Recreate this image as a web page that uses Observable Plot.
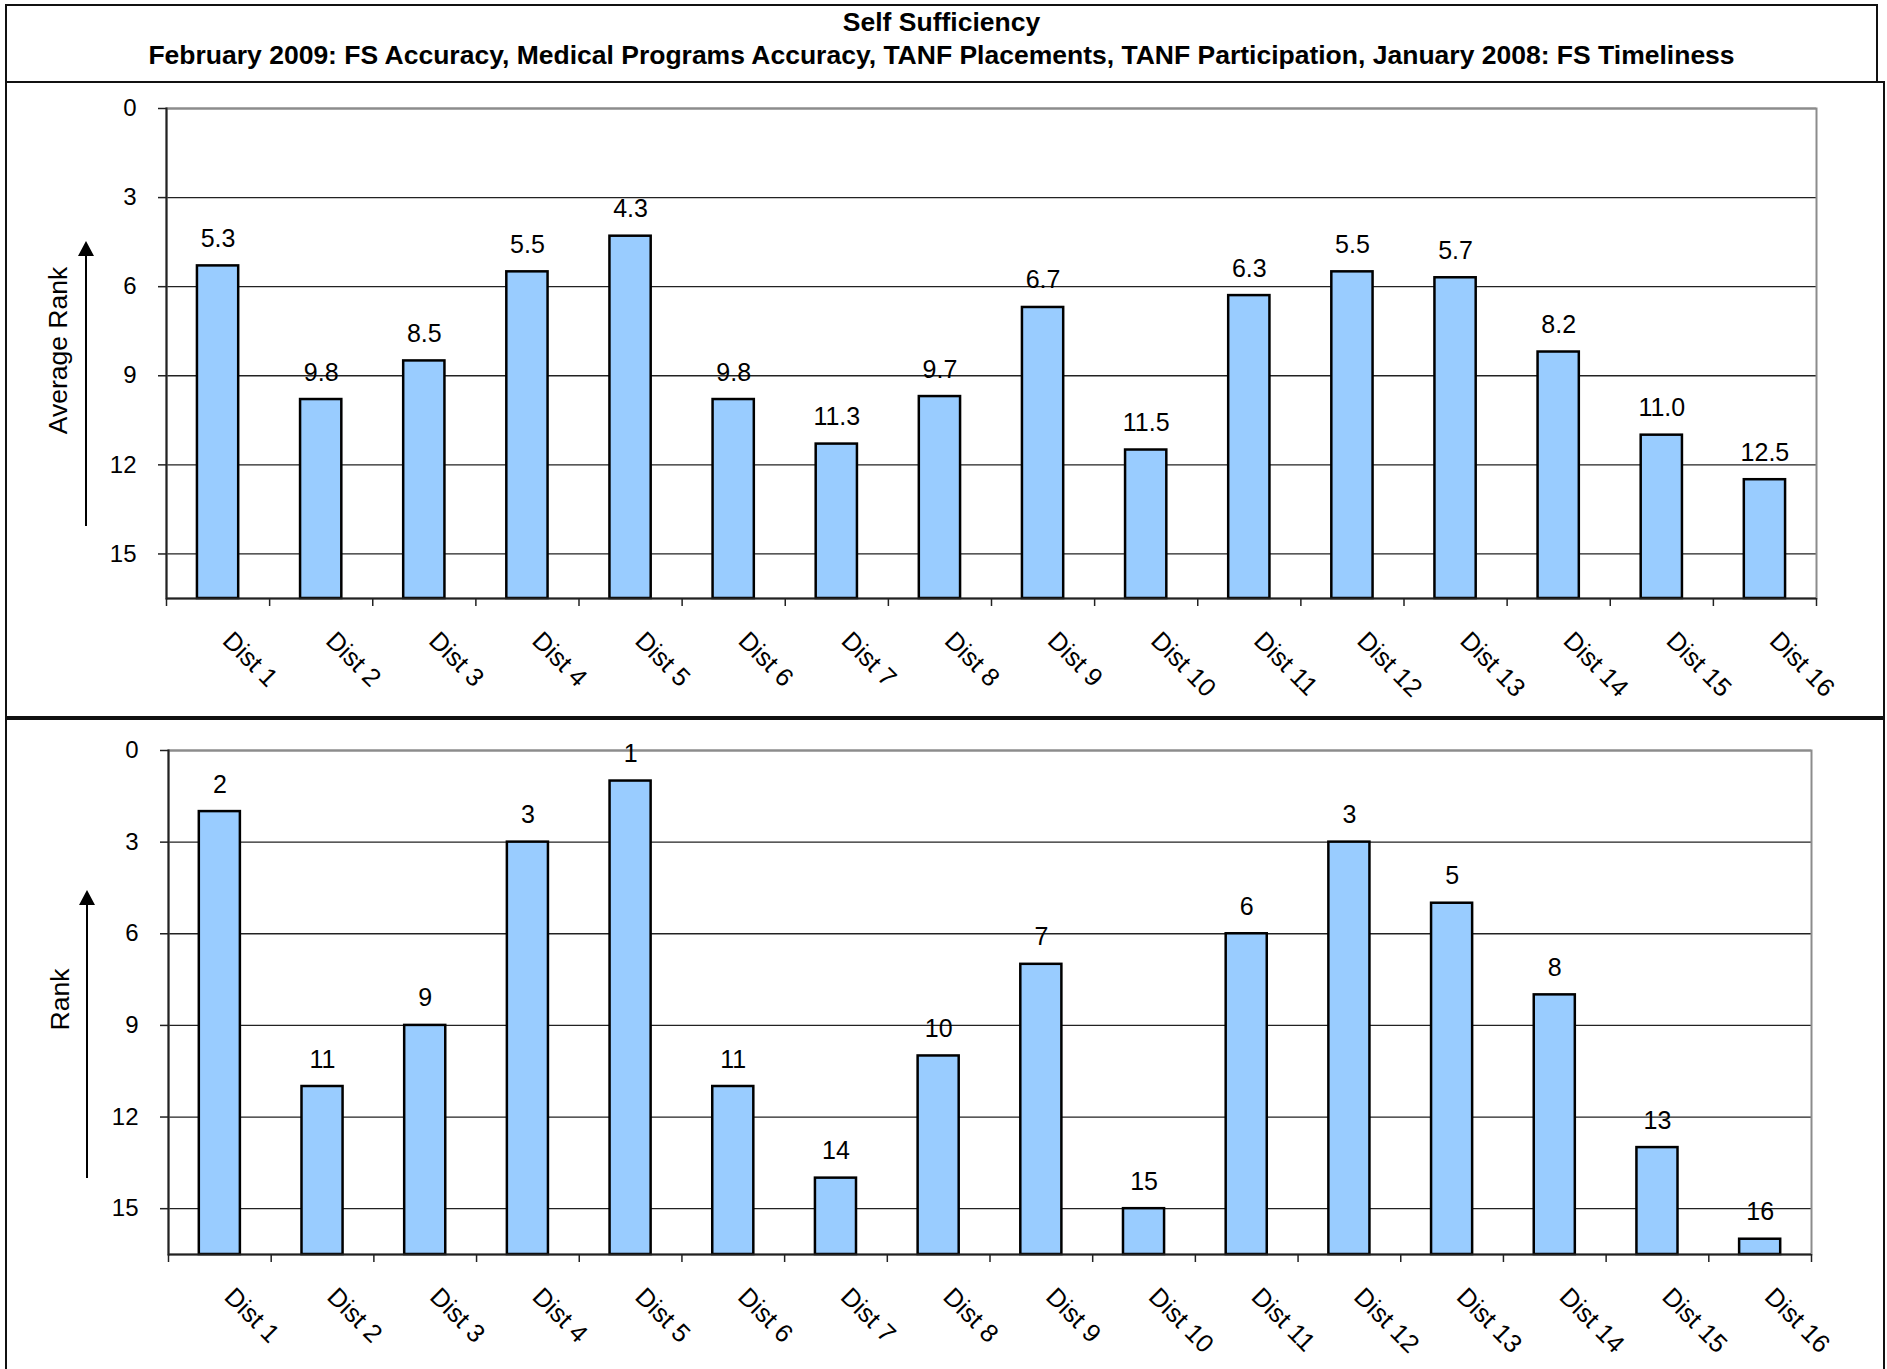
<!DOCTYPE html>
<html><head><meta charset="utf-8">
<script src="https://cdn.jsdelivr.net/npm/d3@7"></script>
<script src="https://cdn.jsdelivr.net/npm/@observablehq/plot@0.6"></script>
<style>
body{margin:0;background:#fff;font-family:"Liberation Sans",Arial,sans-serif;}
#page{position:relative;width:1887px;height:1369px;overflow:hidden;background:#fff;}
.box{position:absolute;border:2px solid #111;box-sizing:border-box;}
#title{left:5px;top:4px;width:1873px;height:79px;text-align:center;font-weight:bold;font-size:26.5px;line-height:33px;color:#000;z-index:2;background:#fff;}
#panel1{left:5px;top:81px;width:1880px;height:637px;}
#panel2{left:5px;top:718px;width:1880px;height:700px;}
.chart{position:absolute;left:0;}
.arrow{position:absolute;width:2px;background:#000;}
.arrow::before{content:"";position:absolute;left:-7px;top:-14px;border-left:8px solid transparent;border-right:8px solid transparent;border-bottom:15px solid #000;}
</style></head>
<body>
<div id="page">
  <div class="box" id="panel1"></div>
  <div class="box" id="panel2"></div>
  <div class="box" id="title"><div>Self Sufficiency</div><div>February 2009: FS Accuracy, Medical Programs Accuracy, TANF Placements, TANF Participation, January 2008: FS Timeliness</div></div>
  <div class="chart" id="chart1" style="top:82px"></div>
  <div class="chart" id="chart2" style="top:719px"></div>
  <div class="arrow" style="left:85px;top:255px;height:271px"></div>
  <div class="arrow" style="left:86px;top:904px;height:274px"></div>
</div>
<script>
const districts = ["Dist 1","Dist 2","Dist 3","Dist 4","Dist 5","Dist 6","Dist 7","Dist 8","Dist 9","Dist 10","Dist 11","Dist 12","Dist 13","Dist 14","Dist 15","Dist 16"];
const averageRank = [5.3, 9.8, 8.5, 5.5, 4.3, 9.8, 11.3, 9.7, 6.7, 11.5, 6.3, 5.5, 5.7, 8.2, 11.0, 12.5];
const rank = [2, 11, 9, 3, 1, 11, 14, 10, 7, 15, 6, 3, 5, 8, 13, 16];
const yTicks = [0, 3, 6, 9, 12, 15];
const yMax = 16.5;

const FONT = "'Liberation Sans', Arial, sans-serif";

function makeChart({values, fmt, label, width, height, marginTop, marginBottom, marginLeft, marginRight}) {
  const records = districts.map((d, i) => ({dist: d, value: values[i]}));
  const step = (width - marginLeft - marginRight) / districts.length;
  return Plot.plot({
    width, height, marginTop, marginBottom, marginLeft, marginRight,
    style: {fontFamily: FONT, color: "#000", background: "transparent", overflow: "visible"},
    x: {domain: districts, paddingInner: 0.6, paddingOuter: 0.3, align: 0.5, round: false},
    y: {domain: [0, yMax], reverse: true},
    marks: [
      Plot.gridY(yTicks, {stroke: "#222", strokeOpacity: 1, strokeWidth: 1.3}),
      Plot.frame({stroke: "#8c8c8c", strokeWidth: 2}),
      Plot.barY(records, {x: "dist", y1: yMax, y2: "value", fill: "#99ccff", stroke: "#000", strokeWidth: 2.5}),
      Plot.ruleY([yMax], {stroke: "#222", strokeWidth: 2}),
      Plot.frame({anchor: "left", stroke: "#222", strokeWidth: 2}),
      Plot.axisX(districts, {tickSize: 8, tickFormat: () => "", dx: -step / 2, stroke: "#222", strokeWidth: 1.5, label: null}),
      Plot.axisX([districts[districts.length - 1]], {tickSize: 8, tickFormat: () => "", dx: step / 2, stroke: "#222", strokeWidth: 1.5, label: null}),
      Plot.axisX({tickSize: 0, tickRotate: 45, textAnchor: "start", lineAnchor: "top", tickPadding: 31, dx: 16, fontSize: 25.5, label: null}),
      Plot.axisY(yTicks, {tickSize: 8, tickPadding: 22, fontSize: 24, label: null, stroke: "#222", strokeWidth: 1.5}),
      Plot.text([label], {frameAnchor: "left", rotate: -90, dx: -108, dy: -3, fontSize: 26.5, textAnchor: "middle", lineAnchor: "middle"}),
      Plot.text(records, {x: "dist", y: "value", text: d => fmt(d.value), dy: -19, lineAnchor: "bottom", fontSize: 25})
    ]
  });
}

document.getElementById("chart1").append(makeChart({
  values: averageRank, fmt: d3.format(".1f"), label: "Average Rank",
  width: 1887, height: 634, marginTop: 26, marginBottom: 118, marginLeft: 166, marginRight: 71
}));
document.getElementById("chart2").append(makeChart({
  values: rank, fmt: d3.format("d"), label: "Rank",
  width: 1887, height: 650, marginTop: 31, marginBottom: 115, marginLeft: 168, marginRight: 76
}));
</script>
</body></html>
